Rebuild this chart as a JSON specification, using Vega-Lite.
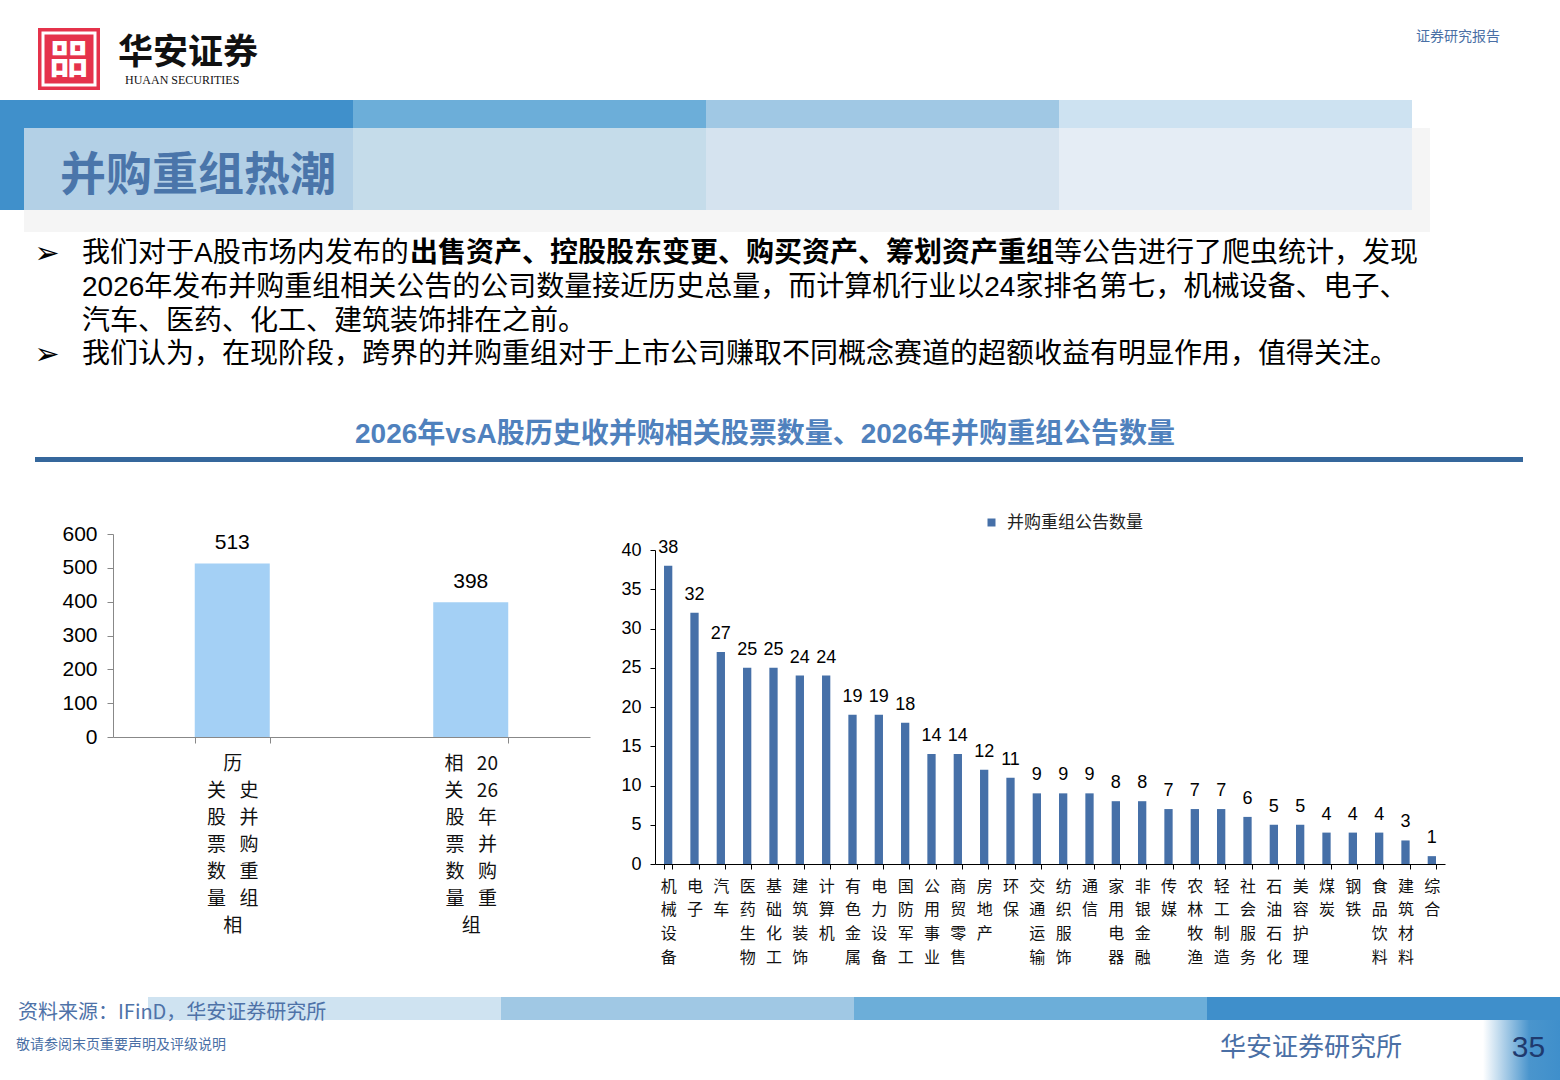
{
  "$schema": "https://vega.github.io/schema/vega-lite/v6.json",
  "padding": 0,
  "background": "#ffffff",
  "spacing": 0,
  "bounds": "flush",
  "resolve": {"scale": {"x": "independent", "y": "independent", "color": "independent"}},
  "config": {
    "view": {"stroke": null},
    "axis": {"grid": false},
    "legend": {"padding": 0},
    "concat": {"spacing": 0}
  },
  "vconcat": [
    {
      "width": 1560,
      "height": 100,
      "layer": [
        {
          "data": {"values": [{"part": "logo"}]},
          "mark": {"type": "rect", "color": "#e5324b", "opacity": 1},
          "encoding": {
            "x": {"field": "part", "type": "nominal", "scale": {"type": "band", "domain": ["logo"], "range": [38, 100], "paddingInner": 0, "paddingOuter": 0}, "axis": null},
            "y": {"field": "part", "type": "nominal", "scale": {"type": "band", "domain": ["logo"], "range": [28, 90], "paddingInner": 0, "paddingOuter": 0}, "axis": null}
          }
        },
        {
          "data": {"values": [{"part": "logo"}]},
          "mark": {"type": "point", "shape": "square", "size": 2704, "filled": false, "stroke": "#ffffff", "strokeWidth": 3, "opacity": 1},
          "encoding": {
            "x": {"field": "part", "type": "nominal"},
            "y": {"field": "part", "type": "nominal"}
          }
        },
        {
          "data": {"values": [{"part": "logo", "glyph": "㗊"}]},
          "mark": {"type": "text", "color": "#ffffff", "fontSize": 40, "font": "Noto Sans CJK SC", "fontWeight": "bold", "baseline": "middle", "align": "center", "dy": 2},
          "encoding": {
            "x": {"field": "part", "type": "nominal"},
            "y": {"field": "part", "type": "nominal"},
            "text": {"field": "glyph"}
          }
        },
        {
          "data": {"values": [{"t": "华安证券"}]},
          "mark": {"type": "text", "align": "left", "baseline": "middle", "dx": -662, "dy": 3, "fontSize": 35, "fontWeight": "bold", "font": "Noto Sans CJK SC", "color": "#111111"},
          "encoding": {"text": {"field": "t"}}
        },
        {
          "data": {"values": [{"t": "HUAAN SECURITIES"}]},
          "mark": {"type": "text", "align": "left", "baseline": "middle", "dx": -655, "dy": 30, "fontSize": 12, "font": "Liberation Serif", "color": "#111111"},
          "encoding": {"text": {"field": "t"}}
        },
        {
          "data": {"values": [{"t": "证券研究报告"}]},
          "mark": {"type": "text", "align": "center", "baseline": "middle", "dx": 678, "dy": -13, "fontSize": 14, "font": "Noto Sans CJK SC", "color": "#4a6fa5"},
          "encoding": {"text": {"field": "t"}}
        }
      ]
    },
    {
      "width": 1560,
      "height": 28,
      "data": {"values": [{"seg": "1"}, {"seg": "2"}, {"seg": "3"}, {"seg": "4"}]},
      "mark": {"type": "rect"},
      "encoding": {
        "x": {"field": "seg", "type": "nominal", "scale": {"type": "band", "domain": ["1", "2", "3", "4"], "range": [0, 1412], "paddingInner": 0, "paddingOuter": 0}, "axis": null},
        "color": {"field": "seg", "type": "nominal", "scale": {"domain": ["1", "2", "3", "4"], "range": ["#4090cb", "#6caed9", "#a0c8e4", "#cde2f1"]}, "legend": null}
      }
    },
    {
      "width": 1560,
      "height": 82,
      "resolve": {"scale": {"x": "independent", "color": "independent"}},
      "layer": [
        {
          "data": {"values": [{"g": "bg"}]},
          "mark": {"type": "rect", "color": "#f5f5f5"},
          "encoding": {
            "x": {"field": "g", "type": "nominal", "scale": {"type": "band", "domain": ["bg"], "range": [24, 1430], "paddingInner": 0, "paddingOuter": 0}, "axis": null}
          }
        },
        {
          "data": {"values": [{"seg": "1"}, {"seg": "2"}, {"seg": "3"}, {"seg": "4"}]},
          "mark": {"type": "rect"},
          "encoding": {
            "x": {"field": "seg", "type": "nominal", "scale": {"type": "band", "domain": ["1", "2", "3", "4"], "range": [0, 1412], "paddingInner": 0, "paddingOuter": 0}, "axis": null},
            "color": {"field": "seg", "type": "nominal", "scale": {"domain": ["1", "2", "3", "4"], "range": ["#b3d0e6", "#c5dcea", "#d5e3ef", "#e5edf5"]}, "legend": null}
          }
        },
        {
          "data": {"values": [{"s": "strip"}]},
          "mark": {"type": "rect", "color": "#4090cb"},
          "encoding": {
            "x": {"field": "s", "type": "nominal", "scale": {"type": "band", "domain": ["strip"], "range": [0, 24], "paddingInner": 0, "paddingOuter": 0}, "axis": null}
          }
        },
        {
          "data": {"values": [{"t": "并购重组热潮"}]},
          "mark": {"type": "text", "align": "left", "baseline": "middle", "dx": -720, "dy": 7, "fontSize": 46, "fontWeight": "bold", "font": "Noto Sans CJK SC", "color": "#4a75aa"},
          "encoding": {"text": {"field": "t"}}
        }
      ]
    },
    {
      "width": 1560,
      "height": 22,
      "data": {"values": [{"g": "bg"}]},
      "mark": {"type": "rect", "color": "#f5f5f5"},
      "encoding": {
        "x": {"field": "g", "type": "nominal", "scale": {"type": "band", "domain": ["bg"], "range": [24, 1430], "paddingInner": 0, "paddingOuter": 0}, "axis": null}
      }
    },
    {
      "width": 1560,
      "height": 140,
      "data": {
        "values": [
          {"line": 1, "part": "bullet", "text": "➢"},
          {"line": 4, "part": "bullet", "text": "➢"},
          {"line": 1, "part": "text", "text": "我们对于A股市场内发布的"},
          {"line": 1, "part": "bold", "text": "出售资产、控股股东变更、购买资产、筹划资产重组"},
          {"line": 1, "part": "tail", "text": "等公告进行了爬虫统计，发现"},
          {"line": 2, "part": "text", "text": "2026年发布并购重组相关公告的公司数量接近历史总量，而计算机行业以24家排名第七，机械设备、电子、"},
          {"line": 3, "part": "text", "text": "汽车、医药、化工、建筑装饰排在之前。"},
          {"line": 4, "part": "text", "text": "我们认为，在现阶段，跨界的并购重组对于上市公司赚取不同概念赛道的超额收益有明显作用，值得关注。"}
        ]
      },
      "encoding": {
        "y": {"field": "line", "type": "ordinal", "scale": {"type": "point", "domain": [1, 2, 3, 4], "padding": 0.579, "align": 0.569, "round": false}, "axis": null},
        "text": {"field": "text"}
      },
      "layer": [
        {
          "transform": [{"filter": "datum.part == 'bullet'"}],
          "mark": {"type": "text", "align": "center", "baseline": "middle", "dx": -733, "dy": 0, "fontSize": 30, "font": "DejaVu Sans", "color": "#000000"}
        },
        {
          "transform": [{"filter": "datum.part == 'text'"}],
          "mark": {"type": "text", "align": "left", "baseline": "middle", "dx": -698, "fontSize": 28, "font": "Liberation Sans, Noto Sans CJK SC", "color": "#000000"}
        },
        {
          "transform": [{"filter": "datum.part == 'bold'"}],
          "mark": {"type": "text", "align": "left", "baseline": "middle", "dx": -370, "fontSize": 28, "fontWeight": "bold", "font": "Liberation Sans, Noto Sans CJK SC", "color": "#000000"}
        },
        {
          "transform": [{"filter": "datum.part == 'tail'"}],
          "mark": {"type": "text", "align": "left", "baseline": "middle", "dx": 274, "fontSize": 28, "font": "Liberation Sans, Noto Sans CJK SC", "color": "#000000"}
        }
      ]
    },
    {
      "width": 1560,
      "height": 85,
      "data": {"values": [{"t": "2026年vsA股历史收并购相关股票数量、2026年并购重组公告数量"}]},
      "mark": {"type": "text", "align": "center", "baseline": "middle", "dx": -15, "dy": 20, "fontSize": 28, "fontWeight": "bold", "font": "Liberation Sans, Noto Sans CJK SC", "color": "#4f81bd"},
      "encoding": {"text": {"field": "t"}}
    },
    {
      "width": 1560,
      "height": 5,
      "data": {"values": [{"r": "rule"}]},
      "mark": {"type": "rect", "color": "#35679c"},
      "encoding": {
        "x": {"field": "r", "type": "nominal", "scale": {"type": "band", "domain": ["rule"], "range": [35, 1523], "paddingInner": 0, "paddingOuter": 0}, "axis": null}
      }
    },
    {
      "width": 1560,
      "height": 402,
      "resolve": {"scale": {"x": "independent", "y": "independent", "color": "independent"}, "axis": {"x": "independent", "y": "independent"}},
      "layer": [
        {
          "data": {
            "values": [
              {"cat": "历史并购重组相关股票数量", "v": 513},
              {"cat": "2026年并购重组相关股票数量", "v": 398}
            ]
          },
          "encoding": {
            "x": {
              "field": "cat", "type": "nominal", "sort": null,
              "scale": {"type": "band", "range": [113, 590], "paddingInner": 0.6855, "paddingOuter": 0.3428},
              "axis": {
                "orient": "bottom", "offset": -127,
                "title": null, "labelAngle": 0, "tickBand": "extent", "tickSize": 6, "tickColor": "#888888", "domainColor": "#888888",
                "labelExpr": "datum.value == '历史并购重组相关股票数量' ? ['\u3000\u2002\u2009历', '关\u2002\u2009史', '股\u2002\u2009并', '票\u2002\u2009购', '数\u2002\u2009重', '量\u2002\u2009组', '\u3000\u2002\u2009相'] : datum.value == '2026年并购重组相关股票数量' ? ['相\u2002\u200920', '关\u2002\u200926', '股\u2002\u2009年', '票\u2002\u2009并', '数\u2002\u2009购', '量\u2002\u2009重', '\u3000\u2002\u2009组'] : ''",
                "labelFontSize": 19, "labelLineHeight": 27, "labelBaseline": "top", "labelPadding": 11,
                "labelFont": "Noto Sans CJK SC", "labelColor": "#111111", "labelBound": false, "labelOverlap": false, "labelFlush": false
              }
            }
          },
          "layer": [
            {
              "mark": {"type": "bar", "color": "#a4d0f5"},
              "encoding": {
                "y": {
                  "field": "v", "type": "quantitative",
                  "scale": {"domain": [0, 600], "nice": false, "range": [275, 72]},
                  "axis": {"orient": "left", "offset": -113, "title": null, "values": [0, 100, 200, 300, 400, 500, 600], "tickSize": 6, "tickColor": "#888888", "domainColor": "#888888", "labelFontSize": 21, "labelFont": "Liberation Sans", "labelPadding": 10, "labelColor": "#000000"}
                }
              }
            },
            {
              "mark": {"type": "text", "baseline": "middle", "align": "center", "dy": -20, "fontSize": 21, "font": "Liberation Sans", "color": "#000000"},
              "encoding": {
                "y": {"field": "v", "type": "quantitative"},
                "text": {"field": "v", "type": "quantitative"}
              }
            }
          ]
        },
        {
          "data": {
            "values": [
              {"cat": "机械设备", "v": 38}, {"cat": "电子", "v": 32}, {"cat": "汽车", "v": 27},
              {"cat": "医药生物", "v": 25}, {"cat": "基础化工", "v": 25}, {"cat": "建筑装饰", "v": 24},
              {"cat": "计算机", "v": 24}, {"cat": "有色金属", "v": 19}, {"cat": "电力设备", "v": 19},
              {"cat": "国防军工", "v": 18}, {"cat": "公用事业", "v": 14}, {"cat": "商贸零售", "v": 14},
              {"cat": "房地产", "v": 12}, {"cat": "环保", "v": 11}, {"cat": "交通运输", "v": 9},
              {"cat": "纺织服饰", "v": 9}, {"cat": "通信", "v": 9}, {"cat": "家用电器", "v": 8},
              {"cat": "非银金融", "v": 8}, {"cat": "传媒", "v": 7}, {"cat": "农林牧渔", "v": 7},
              {"cat": "轻工制造", "v": 7}, {"cat": "社会服务", "v": 6}, {"cat": "石油石化", "v": 5},
              {"cat": "美容护理", "v": 5}, {"cat": "煤炭", "v": 4}, {"cat": "钢铁", "v": 4},
              {"cat": "食品饮料", "v": 4}, {"cat": "建筑材料", "v": 3}, {"cat": "综合", "v": 1}
            ]
          },
          "encoding": {
            "x": {
              "field": "cat", "type": "nominal", "sort": null,
              "scale": {"type": "band", "range": [655, 1445], "paddingInner": 0.685, "paddingOuter": 0.3425},
              "axis": {
                "orient": "bottom", "offset": 0,
                "title": null, "labelAngle": 0, "tickBand": "extent", "tickSize": 5, "tickColor": "#000000", "domainColor": "#000000",
                "labelExpr": "datum.value ? split(datum.value, '') : ''",
                "labelFontSize": 16, "labelLineHeight": 23.7, "labelBaseline": "top", "labelPadding": 9,
                "labelFont": "Noto Sans CJK SC", "labelColor": "#111111", "labelBound": false, "labelOverlap": false, "labelFlush": false
              }
            }
          },
          "layer": [
            {
              "mark": {"type": "bar"},
              "encoding": {
                "y": {
                  "field": "v", "type": "quantitative",
                  "scale": {"domain": [0, 40], "nice": false, "range": [402, 88]},
                  "axis": {"orient": "left", "offset": -655, "title": null, "values": [0, 5, 10, 15, 20, 25, 30, 35, 40], "tickSize": 5, "tickColor": "#000000", "domainColor": "#000000", "labelFontSize": 18, "labelFont": "Liberation Sans", "labelPadding": 9, "labelColor": "#000000"}
                },
                "color": {
                  "datum": "并购重组公告数量", "type": "nominal",
                  "scale": {"range": ["#4670a8"]},
                  "legend": {"title": null, "orient": "none", "legendX": 983, "legendY": 52, "symbolType": "square", "symbolSize": 64, "labelFontSize": 17, "labelFont": "Noto Sans CJK SC", "labelColor": "#222222", "labelOffset": 7, "direction": "horizontal"}
                }
              }
            },
            {
              "mark": {"type": "text", "baseline": "middle", "align": "center", "dy": -18, "fontSize": 18, "font": "Liberation Sans", "color": "#000000"},
              "encoding": {
                "y": {"field": "v", "type": "quantitative"},
                "text": {"field": "v", "type": "quantitative"}
              }
            }
          ]
        }
      ]
    },
    {"width": 1560, "height": 133, "data": {"values": []}, "mark": "rect", "encoding": {}},
    {
      "width": 1560,
      "height": 23,
      "layer": [
        {
          "data": {"values": [{"seg": "1"}, {"seg": "2"}, {"seg": "3"}, {"seg": "4"}]},
          "mark": {"type": "rect"},
          "encoding": {
            "x": {"field": "seg", "type": "nominal", "scale": {"type": "band", "domain": ["1", "2", "3", "4"], "range": [148, 1560], "paddingInner": 0, "paddingOuter": 0}, "axis": null},
            "color": {"field": "seg", "type": "nominal", "scale": {"domain": ["1", "2", "3", "4"], "range": ["#cfe3f1", "#a0c8e4", "#6caed9", "#3f8fcb"]}, "legend": null}
          }
        },
        {
          "data": {"values": [{"t": "资料来源：IFinD，华安证券研究所"}]},
          "mark": {"type": "text", "align": "left", "baseline": "middle", "dx": -762, "dy": 4, "fontSize": 20, "font": "Noto Sans CJK SC", "color": "#4e72a8"},
          "encoding": {"text": {"field": "t"}}
        }
      ]
    },
    {
      "width": 1560,
      "height": 60,
      "layer": [
        {
          "data": {"values": [{"p": "page"}]},
          "mark": {
            "type": "rect",
            "color": {"gradient": "linear", "x1": 0, "x2": 1, "y1": 0, "y2": 0, "stops": [{"offset": 0, "color": "#ffffff"}, {"offset": 0.6, "color": "#4a95cd"}, {"offset": 1, "color": "#3f8fcb"}]}
          },
          "encoding": {
            "x": {"field": "p", "type": "nominal", "scale": {"type": "band", "domain": ["page"], "range": [1483, 1560], "paddingInner": 0, "paddingOuter": 0}, "axis": null}
          }
        },
        {
          "data": {"values": [{"p": "page", "t": "35"}]},
          "mark": {"type": "text", "align": "center", "baseline": "middle", "dx": 7, "dy": -2, "fontSize": 30, "font": "Liberation Sans", "color": "#1f3a6e"},
          "encoding": {
            "x": {"field": "p", "type": "nominal"},
            "text": {"field": "t"}
          }
        },
        {
          "data": {"values": [{"t": "敬请参阅末页重要声明及评级说明"}]},
          "mark": {"type": "text", "align": "left", "baseline": "middle", "dx": -764, "dy": -5, "fontSize": 14, "font": "Noto Sans CJK SC", "color": "#4a6fa5"},
          "encoding": {"text": {"field": "t"}}
        },
        {
          "data": {"values": [{"t": "华安证券研究所"}]},
          "mark": {"type": "text", "align": "center", "baseline": "middle", "dx": 531, "dy": -2, "fontSize": 26, "font": "Noto Sans CJK SC", "color": "#4a6fa5"},
          "encoding": {"text": {"field": "t"}}
        }
      ]
    }
  ]
}
